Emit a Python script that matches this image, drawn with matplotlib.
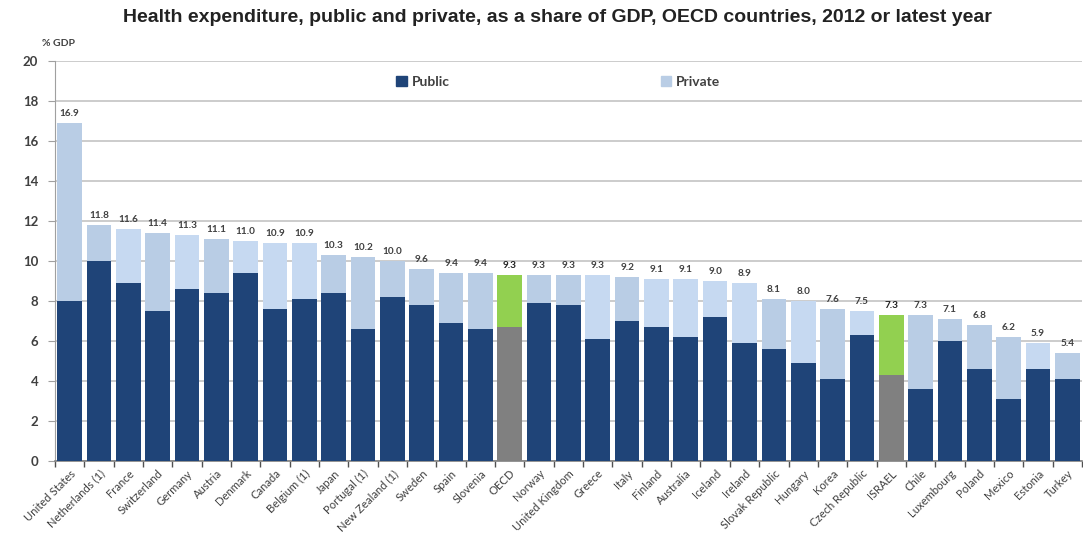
import matplotlib
matplotlib.use("Agg")
import matplotlib.pyplot as plt
import numpy as np
from matplotlib.patches import Patch

countries = ["United States", "Netherlands (1)", "France", "Switzerland", "Germany",
             "Austria", "Denmark", "Canada", "Belgium (1)", "Japan", "Portugal (1)",
             "New Zealand (1)", "Sweden", "Spain", "Slovenia", "OECD", "Norway",
             "United Kingdom", "Greece", "Italy", "Finland", "Australia", "Iceland",
             "Ireland", "Slovak Republic", "Hungary", "Korea", "Czech Republic",
             "ISRAEL", "Chile", "Luxembourg", "Poland", "Mexico", "Estonia", "Turkey"]
total = [16.9, 11.8, 11.6, 11.4, 11.3, 11.1, 11.0, 10.9, 10.9, 10.3, 10.2,
         10.0, 9.6, 9.4, 9.4, 9.3, 9.3, 9.3, 9.3, 9.2, 9.1, 9.1, 9.0,
         8.9, 8.1, 8.0, 7.6, 7.5, 7.3, 7.3, 7.1, 6.8, 6.2, 5.9, 5.4]
public = [8.0, 10.0, 8.9, 7.5, 8.6, 8.4, 9.4, 7.6, 8.1, 8.4, 6.6,
          8.2, 7.8, 6.9, 6.6, 6.7, 7.9, 7.8, 6.1, 7.0, 6.7, 6.2, 7.2,
          5.9, 5.6, 4.9, 4.1, 6.3, 4.3, 3.6, 6.0, 4.6, 3.1, 4.6, 4.1]
private = [round(t - p, 2) for t, p in zip(total, public)]
highlight = ["OECD", "ISRAEL"]
lighter_private = ["France", "Germany", "Denmark", "Canada", "Belgium (1)", "Greece",
                   "Finland", "Australia", "Iceland", "Ireland", "Hungary",
                   "Czech Republic", "Estonia"]
yticks = list(range(0, 21, 2))

C_PUB = "#1f4478"
C_PRIV = "#b9cde5"
C_PRIV_L = "#c6d9f1"
C_HL_PUB = "#808080"
C_HL_PRIV = "#92d050"
TXT = "#404040"

fig = plt.figure(figsize=(10.83, 5.34), dpi=100)
ax = fig.add_axes([55 / 1083, 1 - 461 / 534, 1 - 55 / 1083 - 0.001, 400 / 534])

x = np.arange(len(countries))
pub_colors = [C_HL_PUB if c in highlight else C_PUB for c in countries]
priv_colors = [C_HL_PRIV if c in highlight else (C_PRIV_L if c in lighter_private else C_PRIV)
               for c in countries]
w = 0.84
ax.bar(x, public, width=w, color=pub_colors, edgecolor="none", zorder=3)
ax.bar(x, private, bottom=public, width=w, color=priv_colors, edgecolor="none", zorder=3)

for xi, t, c in zip(x, total, countries):
    ax.text(xi, t + 0.25, f"{t:.1f}", ha="center", va="bottom", fontsize=7.2,
            fontweight="bold", color="#222222" if c in highlight else TXT,
            family="Lato", zorder=4)

ax.set_xlim(-0.5, len(countries) - 0.5)
ax.set_ylim(0, 20)
ax.set_yticks(yticks)
ax.set_yticklabels([str(v) for v in yticks], fontsize=9.5, fontweight="bold",
                   color=TXT, family="Lato")
ax.yaxis.grid(True, color="#cccccc", linewidth=1.4, zorder=0)
ax.tick_params(axis="y", length=5, color="#a0a0a0", pad=7)

ax.set_xticks(x)
ax.set_xticklabels(countries, rotation=45, ha="right", rotation_mode="anchor",
                   fontsize=8.1, color=TXT, family="Lato")
ax.tick_params(axis="x", which="major", length=0, pad=5)
ax.set_xticks(np.arange(-0.5, len(countries), 1.0), minor=True)
ax.tick_params(axis="x", which="minor", length=4, color="#505050", width=1)

for s in ["top", "right"]:
    ax.spines[s].set_visible(False)
ax.spines["left"].set_color("#a0a0a0")
ax.spines["bottom"].set_color("#808080")
ax.spines["bottom"].set_linewidth(1.2)

handles = [Patch(color=C_PUB, label="Public"), Patch(color=C_PRIV, label="Private")]
leg = ax.legend(handles=handles, loc="center", bbox_to_anchor=(0.49, 0.948), ncol=2,
                frameon=True, facecolor="white", edgecolor="none", framealpha=1,
                handlelength=0.75, handleheight=0.75, handletextpad=0.35,
                columnspacing=15.2, prop={"family": "Lato", "weight": "bold", "size": 10})
for t in leg.get_texts():
    t.set_color(TXT)

fig.text(42 / 1083, 1 - 44 / 534, "% GDP", fontsize=7.5, fontweight="bold", color=TXT,
         family="Lato", va="center", ha="left")
fig.text(557 / 1083, 1 - 18 / 534,
         "Health expenditure, public and private, as a share of GDP, OECD countries, 2012 or latest year",
         fontsize=14, fontweight="bold", color="#222222", family="Liberation Sans",
         ha="center", va="center")

fig.savefig("out.png", dpi=100)
